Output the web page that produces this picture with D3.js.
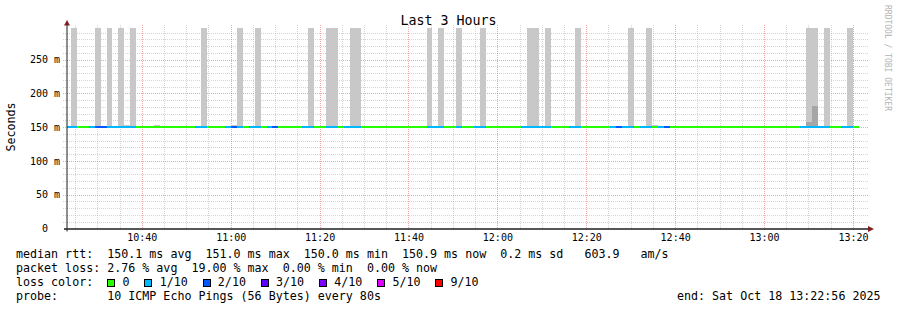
<!DOCTYPE html>
<html lang="en">
<head>
<meta charset="utf-8">
<title>Last 3 Hours</title>
<script src="https://cdn.jsdelivr.net/npm/d3@7/dist/d3.min.js"></script>
<style>
    html, body { margin: 0; padding: 0; background: #ffffff; }
    #chart svg { display: block; }
    #chart text { font-family: "DejaVu Sans Mono", "Liberation Mono", monospace; white-space: pre; fill: #000; }
</style>
</head>
<body>
<div id="chart"></div>
<script>
// ===== data: one sample per 80 s probe round =====
const firstStep = '2025-10-18 10:22:44';
const stepSeconds = 80;

// median round trip time of each round (ms)
const medianMs = [
    150.0, 150.0, 150.0, 150.0, 151.0, 150.0, 150.0, 150.0, 150.0, 150.0,
    150.0, 150.0, 150.0, 150.0, 150.0, 150.0, 150.0, 150.0, 150.0, 150.0,
    150.0, 150.0, 151.0, 150.0, 150.0, 150.0, 150.0, 150.0, 151.0, 150.0,
    151.0, 150.0, 150.0, 150.0, 150.0, 150.0, 150.0, 150.0, 150.0, 150.0,
    150.0, 150.0, 150.0, 150.0, 150.0, 150.0, 150.0, 150.0, 150.0, 150.0,
    150.0, 150.0, 150.0, 150.0, 150.0, 150.0, 150.0, 150.0, 150.0, 150.0,
    150.0, 150.0, 150.0, 150.0, 151.0, 151.0, 150.0, 150.0, 150.0, 150.0,
    150.0, 150.0, 150.0, 150.0, 150.0, 150.0, 150.0, 150.0, 150.0, 150.0,
    150.0, 150.0, 150.0, 150.0, 150.0, 150.0, 150.0, 150.0, 150.0, 150.0,
    150.0, 150.0, 150.0, 151.0, 150.0, 150.0, 150.0, 150.0, 150.0, 151.0,
    150.0, 150.0, 150.0, 150.0, 150.0, 150.0, 150.0, 150.0, 151.0, 150.0,
    150.0, 150.0, 150.0, 150.0, 150.0, 150.0, 150.0, 151.0, 150.0, 150.0,
    150.0, 150.0, 150.0, 150.0, 150.0, 151.0, 150.0, 150.0, 151.0, 150.0,
    150.0, 150.0, 150.0, 150.9
];

// pings lost out of 10 in each round
const lossCount = [
    1, 1, 0, 0, 1, 2, 2, 1, 1, 1,
    1, 1, 0, 0, 0, 0, 0, 0, 0, 0,
    0, 0, 1, 1, 0, 0, 0, 1, 2, 1,
    0, 1, 1, 0, 1, 2, 0, 0, 0, 0,
    1, 1, 0, 0, 1, 1, 0, 1, 1, 1,
    0, 0, 0, 0, 0, 0, 0, 0, 0, 0,
    0, 1, 1, 1, 0, 0, 1, 0, 0, 1,
    1, 0, 0, 0, 0, 0, 0, 1, 1, 1,
    1, 1, 0, 0, 0, 1, 1, 0, 0, 0,
    0, 0, 1, 2, 1, 1, 0, 1, 1, 0,
    1, 2, 0, 0, 0, 0, 0, 0, 0, 0,
    0, 0, 0, 0, 0, 0, 0, 0, 0, 0,
    0, 0, 0, 0, 1, 1, 1, 1, 1, 0,
    0, 1, 1, 0
];

// top of the light smoke in each round (ms), null where nothing shows above the median
const smokeHighMs = [
    null, 420, null, null, null, 420, null, 420, null, 420,
    153, 420, null, null, null, 153, null, null, null, null,
    null, null, null, 420, null, null, null, null, 153, 420,
    null, null, 420, null, null, null, null, null, null, null,
    null, 420, null, null, 420, 420, null, null, 420, 420,
    null, null, null, null, null, null, null, null, null, null,
    null, 420, null, 420, null, null, 420, null, null, null,
    420, null, null, null, null, null, null, null, 420, 420,
    null, 420, null, null, null, null, 420, null, null, null,
    null, null, null, null, null, 420, null, null, 420, 153,
    null, null, null, null, null, null, null, null, null, null,
    null, null, null, null, null, null, null, null, null, null,
    null, null, null, null, null, 420, 420, null, 420, null,
    null, null, 420, null
];

// top of the darker inner smoke (ms)
const smokeInnerMs = [
    null, null, null, null, null, null, null, null, null, null,
    null, null, null, null, null, null, null, null, null, null,
    null, null, null, null, null, null, null, null, null, null,
    null, null, null, null, null, null, null, null, null, null,
    null, null, null, null, null, null, null, null, null, null,
    null, null, null, null, null, null, null, null, null, null,
    null, null, null, null, null, null, null, null, null, null,
    null, null, null, null, null, null, null, null, null, null,
    null, null, null, null, null, null, null, null, null, null,
    null, null, null, null, null, null, null, null, null, null,
    null, null, null, null, null, null, null, null, null, null,
    null, null, null, null, null, null, null, null, null, null,
    null, null, null, null, null, 158, 181, null, null, null,
    null, null, null, null
];

// axes
const viewStart = '2025-10-18 10:23:10';
const viewEnd = '2025-10-18 13:23:10';
const xTickLabels = ['10:40', '11:00', '11:20', '11:40', '12:00', '12:20', '12:40', '13:00', '13:20'];
const yTickValues = [0, 50, 100, 150, 200, 250];
const yMaxMs = 297;

// loss colour legend
const lossLevels = [0, 1, 2, 3, 4, 5, 9];
const lossLabels = ['0', '1/10', '2/10', '3/10', '4/10', '5/10', '9/10'];
const lossColors = ['#26ff00', '#00b8ff', '#0059ff', '#5e00ff', '#7e00ff', '#dd00ff', '#ff0000'];

// text
const chartTitle = 'Last 3 Hours';
const yAxisTitle = 'Seconds';
const watermark = 'RRDTOOL / TOBI OETIKER';
const rttStats = ['150.1 ms avg', '151.0 ms max', '150.0 ms min', '150.9 ms now', '0.2 ms sd', ' 603.9   am/s'];
const lossStats = ['2.76 % avg', '19.00 % max', '0.00 % min', '0.00 % now'];
const probeText = '10 ICMP Echo Pings (56 Bytes) every 80s';
const endText = 'end: Sat Oct 18 13:22:56 2025';

// ===== layout =====
const width = 897;
const height = 310;
const plot = { left: 67, right: 867, top: 28, bottom: 228.5 };
const legendFont = 11.66;
const charW = legendFont * 0.602;

const gridColor = 'rgba(143,143,143,0.38)';
const majorColor = 'rgba(222,79,79,0.5)';
const axisColor = '#1f1f1f';
const arrowColor = '#801f1f';

const parseTime = d3.timeParse('%Y-%m-%d %H:%M:%S');
const parseTick = d3.timeParse('%Y-%m-%d %H:%M');
const day = viewStart.slice(0, 10);

const x = d3.scaleTime()
    .domain([parseTime(viewStart), parseTime(viewEnd)])
    .range([plot.left, plot.right]);

const y = d3.scaleLinear()
    .domain([0, yMaxMs])
    .range([plot.bottom, plot.top]);

const t0 = parseTime(firstStep);
const samples = medianMs.map((median, i) => ({
    start: d3.timeSecond.offset(t0, i * stepSeconds),
    end: d3.timeSecond.offset(t0, (i + 1) * stepSeconds),
    median,
    loss: lossCount[i],
    high: smokeHighMs[i],
    inner: smokeInnerMs[i]
}));

const lossColor = count => lossColors[d3.bisectRight(lossLevels, count) - 1];
const crisp = v => Math.round(v) + 0.5;

const svg = d3.select('#chart')
    .append('svg')
    .attr('width', width)
    .attr('height', height)
    .attr('viewBox', `0 0 ${width} ${height}`);

svg.append('rect')
    .attr('width', width)
    .attr('height', height)
    .attr('fill', '#ffffff');

svg.append('defs')
    .append('clipPath')
    .attr('id', 'plot-clip')
    .append('rect')
    .attr('x', plot.left)
    .attr('y', plot.top)
    .attr('width', plot.right - plot.left)
    .attr('height', plot.bottom - plot.top);

// ===== 1. grid =====
const xMajor = xTickLabels.map(s => parseTick(`${day} ${s}`));
const xMinor = x.ticks(d3.timeMinute.every(5))
    .filter(t => !xMajor.some(m => +m === +t));
const yMinor = d3.range(10, yMaxMs, 10).filter(v => !yTickValues.includes(v));

const grid = svg.append('g').attr('class', 'grid').attr('stroke-dasharray', '1,1');

grid.selectAll('line.h-minor')
    .data(yMinor)
    .join('line')
    .attr('class', 'h-minor')
    .attr('x1', plot.left - 4).attr('x2', plot.right + 2)
    .attr('y1', d => crisp(y(d))).attr('y2', d => crisp(y(d)))
    .attr('stroke', gridColor);

grid.selectAll('line.v-minor')
    .data(xMinor)
    .join('line')
    .attr('class', 'v-minor')
    .attr('x1', d => crisp(x(d))).attr('x2', d => crisp(x(d)))
    .attr('y1', plot.top - 3).attr('y2', plot.bottom + 2)
    .attr('stroke', gridColor);

grid.selectAll('line.h-major')
    .data(yTickValues.filter(v => v > 0))
    .join('line')
    .attr('class', 'h-major')
    .attr('x1', plot.left - 4).attr('x2', plot.right + 2)
    .attr('y1', d => crisp(y(d))).attr('y2', d => crisp(y(d)))
    .attr('stroke', majorColor);

grid.selectAll('line.v-major')
    .data(xMajor)
    .join('line')
    .attr('class', 'v-major')
    .attr('x1', d => crisp(x(d))).attr('x2', d => crisp(x(d)))
    .attr('y1', plot.top - 3).attr('y2', plot.bottom + 2)
    .attr('stroke', majorColor);

// ===== 2. smoke =====
const marks = svg.append('g').attr('clip-path', 'url(#plot-clip)');

marks.selectAll('rect.smoke')
    .data(samples.filter(d => d.high !== null))
    .join('rect')
    .attr('class', 'smoke')
    .attr('x', d => x(d.start))
    .attr('width', d => x(d.end) - x(d.start))
    .attr('y', d => y(d.high))
    .attr('height', d => y(d.median) - y(d.high))
    .attr('fill', '#c8c8c8')
    .attr('shape-rendering', 'crispEdges');

marks.selectAll('rect.smoke-inner')
    .data(samples.filter(d => d.inner !== null))
    .join('rect')
    .attr('class', 'smoke-inner')
    .attr('x', d => x(d.start))
    .attr('width', d => x(d.end) - x(d.start))
    .attr('y', d => y(d.inner))
    .attr('height', d => y(d.median) - y(d.inner))
    .attr('fill', '#a6a6a6')
    .attr('shape-rendering', 'crispEdges');

// ===== 3. median line coloured by loss =====
marks.selectAll('path.median')
    .data(samples)
    .join('path')
    .attr('class', 'median')
    .attr('d', d => `M${x(d.start)},${y(d.median)}H${x(d.end)}`)
    .attr('fill', 'none')
    .attr('stroke', d => lossColor(d.loss))
    .attr('stroke-width', 2)
    .attr('shape-rendering', 'crispEdges');

// ===== 4. axes =====
svg.append('g')
    .attr('class', 'y-axis')
    .attr('transform', `translate(${plot.left},0)`)
    .call(d3.axisLeft(y)
        .tickValues(yTickValues)
        .tickSize(0)
        .tickPadding(7)
        .tickFormat(v => (v === 0 ? '0' : `${v} m`)))
    .call(g => g.select('.domain').remove())
    .call(g => g.attr('font-size', 10))
    .call(g => g.selectAll('.tick text').attr('fill', '#000').filter(d => d === 0).attr('dx', -12));

svg.append('g')
    .attr('class', 'x-axis')
    .attr('transform', `translate(0,${plot.bottom})`)
    .call(d3.axisBottom(x)
        .tickValues(xMajor)
        .tickSize(0)
        .tickPadding(5.5)
        .tickFormat(d3.timeFormat('%H:%M')))
    .call(g => g.select('.domain').remove())
    .call(g => g.attr('font-size', 10))
    .call(g => g.selectAll('.tick text').attr('fill', '#000'));

// axis lines with rrd-style arrows
svg.append('line')
    .attr('x1', plot.left).attr('x2', plot.left)
    .attr('y1', plot.top - 6).attr('y2', plot.bottom + 3)
    .attr('stroke', axisColor).attr('stroke-width', 1);

svg.append('line')
    .attr('x1', plot.left - 3).attr('x2', plot.right + 4)
    .attr('y1', plot.bottom + 0.5).attr('y2', plot.bottom + 0.5)
    .attr('stroke', axisColor).attr('stroke-width', 1.5);

svg.append('path')
    .attr('d', `M${plot.left - 3},${plot.top - 2.5}L${plot.left + 3},${plot.top - 2.5}L${plot.left},${plot.top - 8}Z`)
    .attr('fill', arrowColor);

svg.append('path')
    .attr('d', `M${plot.right + 1},${plot.bottom - 2.5}L${plot.right + 1},${plot.bottom + 3.5}L${plot.right + 7},${plot.bottom + 0.5}Z`)
    .attr('fill', arrowColor);

// ===== 5. titles =====
svg.append('text')
    .attr('x', width / 2)
    .attr('y', 24.5)
    .attr('text-anchor', 'middle')
    .attr('font-size', 13.3)
    .text(chartTitle);

svg.append('text')
    .attr('transform', `translate(14.5,127) rotate(-90)`)
    .attr('text-anchor', 'middle')
    .attr('font-size', legendFont)
    .text(yAxisTitle);

svg.append('text')
    .attr('transform', `translate(885,5) rotate(90)`)
    .attr('font-size', 8)
    .style('fill', '#b4b4b4')
    .text(watermark);

// ===== 6. legend =====
const legend = svg.append('g')
    .attr('class', 'legend')
    .attr('font-size', legendFont);

const legendLines = [
    { y: 258, text: 'median rtt:  ' + rttStats.join('  ') },
    { y: 272, text: 'packet loss: ' + lossStats.join('  ') },
    { y: 286, text: 'loss color:' },
    { y: 300, text: 'probe:       ' + probeText }
];

legend.selectAll('text.line')
    .data(legendLines)
    .join('text')
    .attr('class', 'line')
    .attr('xml:space', 'preserve')
    .attr('x', 16)
    .attr('y', d => d.y)
    .text(d => d.text);

legend.append('text')
    .attr('x', 880.5)
    .attr('y', 300)
    .attr('text-anchor', 'end')
    .text(endText);

// colour boxes of the loss legend
let boxX = 16 + 13 * charW;
const boxes = lossLabels.map((label, i) => {
    const item = { label, color: lossColors[i], boxX, textX: boxX + 15.3 };
    boxX = item.textX + label.length * charW + 14.8;
    return item;
});

legend.selectAll('rect.loss-box')
    .data(boxes)
    .join('rect')
    .attr('class', 'loss-box')
    .attr('x', d => Math.round(d.boxX) + 0.5)
    .attr('y', 279.5)
    .attr('width', 7)
    .attr('height', 7)
    .attr('fill', d => d.color)
    .attr('stroke', '#000')
    .attr('stroke-width', 1);

legend.selectAll('text.loss-label')
    .data(boxes)
    .join('text')
    .attr('class', 'loss-label')
    .attr('x', d => d.textX)
    .attr('y', 286)
    .text(d => d.label);
</script>
</body>
</html>
